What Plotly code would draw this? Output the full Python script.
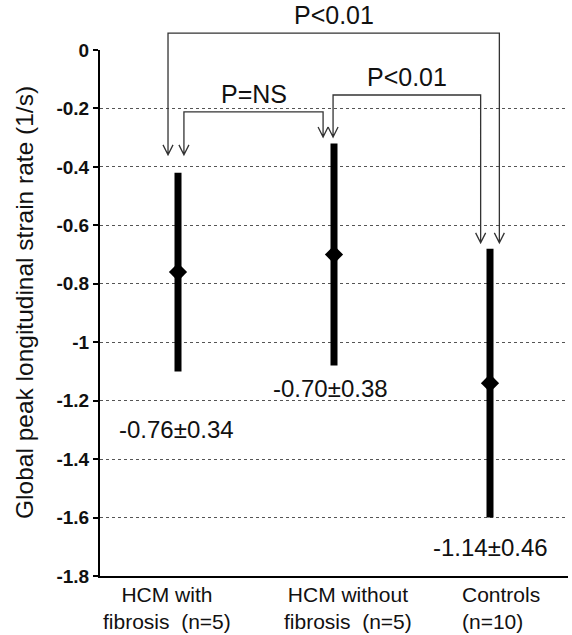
import plotly.graph_objects as go

# ---- data ----
groups = ["HCM with fibrosis (n=5)", "HCM without fibrosis (n=5)", "Controls (n=10)"]
means = [-0.76, -0.70, -1.14]
sds = [0.34, 0.38, 0.46]
ytick_vals = [0, -0.2, -0.4, -0.6, -0.8, -1.0, -1.2, -1.4, -1.6, -1.8]
ytick_text = ["0", "-0.2", "-0.4", "-0.6", "-0.8", "-1", "-1.2", "-1.4", "-1.6", "-1.8"]
comparisons = [(0, 1, "P=NS"), (1, 2, "P<0.01"), (0, 2, "P<0.01")]

# ---- layout constants ----
W, H = 572, 635
ML, MR, MT, MB = 100, 4, 50, 59
PW, PH = W - ML - MR, H - MT - MB
XR = [-0.5, 2.5]
YR = [-1.8, 0]
FONT = "Arial, 'Liberation Sans', sans-serif"
TXT = "#111111"
LINE = "#333333"


def xp(x):
    return (x - XR[0]) / (XR[1] - XR[0])


def yp(y):
    return (y - YR[0]) / (YR[1] - YR[0])


x = list(range(len(groups)))
fig = go.Figure()
fig.add_trace(go.Scatter(
    x=x, y=means, mode="markers",
    marker=dict(symbol="diamond", size=14, color="black"),
    error_y=dict(type="data", array=sds, symmetric=True, thickness=7, width=0, color="black"),
    showlegend=False, hoverinfo="skip",
))

# value labels (mean ± SD)
label_pos = [(-0.01, -1.30), (-0.02, -1.157), (0.0, -1.704)]
annotations = []
for i, (lx, ly) in enumerate(label_pos):
    annotations.append(dict(
        x=i + lx, y=ly, xref="x", yref="y",
        text=f"{means[i]:.2f}\u00b1{sds[i]:.2f}",
        showarrow=False, xanchor="center", yanchor="middle",
        font=dict(family=FONT, size=24, color=TXT),
    ))

# category labels
cat_lines = [["HCM with", "fibrosis  (n=5)"], ["HCM without", "fibrosis  (n=5)"], ["Controls", "(n=10)"]]
cat_pos = [(-0.07, "center"), (1.09, "center"), (1.81, "left")]
for (cx, anc), lines in zip(cat_pos, cat_lines):
    annotations.append(dict(
        x=cx, y=0, xref="x", yref="paper", yshift=-5,
        text="<br>".join(lines), showarrow=False,
        xanchor=anc, yanchor="top", align=anc,
        font=dict(family=FONT, size=21, color=TXT),
    ))

# y-axis title
annotations.append(dict(
    x=(24 - ML) / PW, y=0.5, xref="paper", yref="paper", yshift=10,
    text="Global peak longitudinal strain rate (1/s)", textangle=-90,
    showarrow=False, xanchor="center", yanchor="middle",
    font=dict(family=FONT, size=24.5, color=TXT),
))

# significance brackets: (left x, right x, bar y, left tip y, right tip y)
bracket_geom = {
    (0, 1): (0.038, 0.93, -0.212, -0.359, -0.298),
    (1, 2): (0.994, 1.94, -0.154, -0.298, -0.66),
    (0, 2): (-0.064, 2.06, 0.058, -0.359, -0.66),
}
shapes = []
dxa = 5 / PW
dya = 10 / PH
for a, b, txt in comparisons:
    x1, x2, yb, t1, t2 = bracket_geom[(a, b)]
    X1, X2, YB, T1, T2 = xp(x1), xp(x2), yp(yb), yp(t1), yp(t2)
    path = f"M {X1},{T1} L {X1},{YB} L {X2},{YB} L {X2},{T2}"
    path += f" M {X1 - dxa},{T1 + dya} L {X1},{T1} L {X1 + dxa},{T1 + dya}"
    path += f" M {X2 - dxa},{T2 + dya} L {X2},{T2} L {X2 + dxa},{T2 + dya}"
    shapes.append(dict(type="path", path=path, xref="paper", yref="paper",
                       line=dict(color=LINE, width=1.3)))
    annotations.append(dict(
        x=(X1 + X2) / 2, y=YB, xref="paper", yref="paper", yshift=18,
        text=txt, showarrow=False, xanchor="center", yanchor="middle",
        font=dict(family=FONT, size=25, color=TXT),
    ))

fig.update_layout(
    width=W, height=H,
    margin=dict(l=ML, r=MR, t=MT, b=MB, pad=0),
    paper_bgcolor="white", plot_bgcolor="white",
    showlegend=False,
    xaxis=dict(range=XR, showgrid=False, zeroline=False, showticklabels=False,
               ticks="", showline=True, linecolor="black", linewidth=2, fixedrange=True),
    yaxis=dict(range=YR, tickvals=ytick_vals, ticktext=ytick_text,
               showgrid=True, gridcolor="#555555", griddash="dot", gridwidth=1,
               zeroline=False, showline=True, linecolor="black", linewidth=2,
               ticks="outside", ticklen=5, tickwidth=1.5, tickcolor="black",
               tickfont=dict(family=FONT, size=19, color=TXT, weight="bold"),
               fixedrange=True),
    annotations=annotations,
    shapes=shapes,
)

fig.write_html("out.html")
